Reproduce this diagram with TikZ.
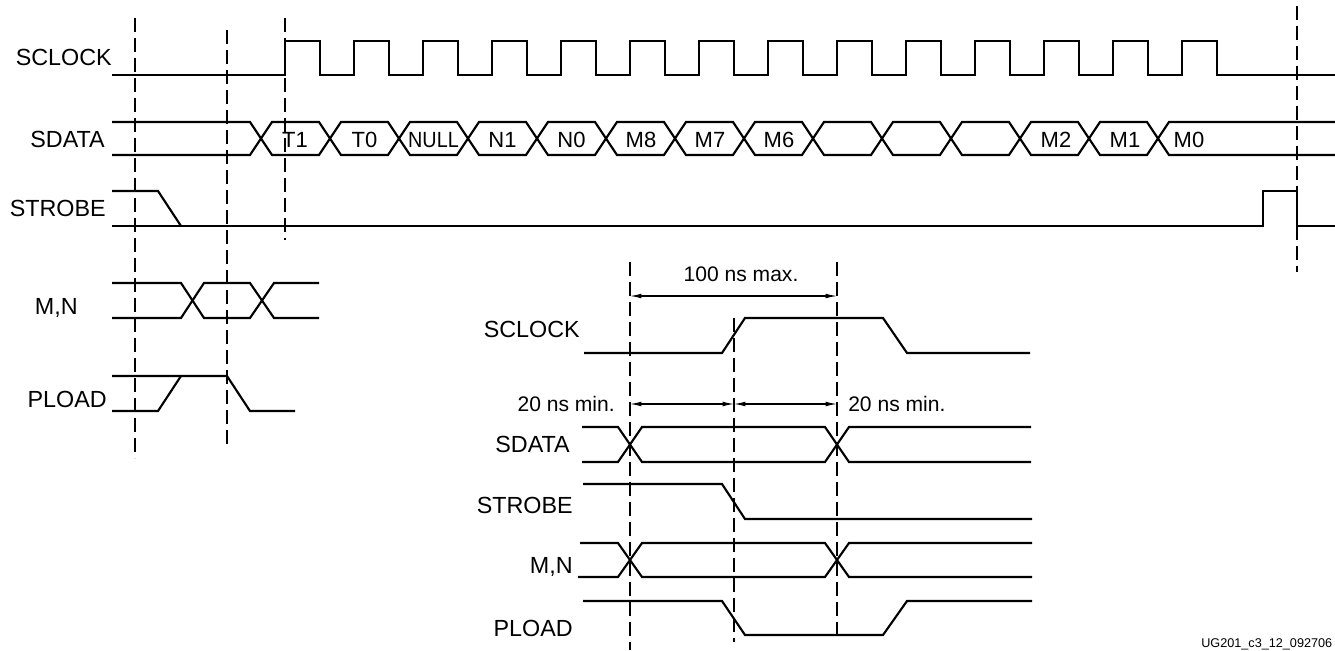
\documentclass[tikz,border=0pt]{standalone}
\usepackage{fontspec}
\setmainfont{Liberation Sans}
\usetikzlibrary{arrows.meta}

\begin{document}
\begin{tikzpicture}[x=0.75pt,y=0.75pt,yscale=-1,xscale=1,
  wave/.style={line width=1.6pt},
  guide/.style={line width=0.8pt,dash pattern=on 10.5pt off 4.5pt},
  span/.style={line width=0.8pt,{Latex[length=8.5pt,width=3.5pt]}-{Latex[length=8.5pt,width=3.5pt]}},
  signame/.style={anchor=base east,inner sep=0pt,font=\fontsize{17.5}{20}\selectfont},
  bitname/.style={anchor=base,inner sep=0pt,font=\fontsize{16.5}{19}\selectfont},
  note/.style={inner sep=0pt,font=\fontsize{15.8}{18}\selectfont}]
\useasboundingbox (0,0) rectangle (1335,650);

%Guides: upper diagram
\draw [guide] (135,18) -- (135,458) ;
\draw [guide] (227,30) -- (227,445) ;
\draw [guide] (285,18) -- (285,240) ;
\draw [guide] (1297,6) -- (1297,272) ;

%Waveform: SCLOCK
\draw [wave] (112,75) -- (285,75) -- (285,41) -- (320,41) -- (320,75) -- (354,75) -- (354,41) -- (389,41) -- (389,75) -- (423,75) -- (423,41) -- (458,41) -- (458,75) -- (492,75) -- (492,41) -- (527,41) -- (527,75) -- (561,75) -- (561,41) -- (596,41) -- (596,75) -- (630,75) -- (630,41) -- (665,41) -- (665,75) -- (699,75) -- (699,41) -- (734,41) -- (734,75) -- (768,75) -- (768,41) -- (803,41) -- (803,75) -- (837,75) -- (837,41) -- (872,41) -- (872,75) -- (906,75) -- (906,41) -- (941,41) -- (941,75) -- (975,75) -- (975,41) -- (1010,41) -- (1010,75) -- (1044,75) -- (1044,41) -- (1079,41) -- (1079,75) -- (1113,75) -- (1113,41) -- (1148,41) -- (1148,75) -- (1182,75) -- (1182,41) -- (1217,41) -- (1217,75) -- (1335,75) ;

%Waveform: SDATA
\draw [wave] (112,122) -- (250,122) -- (272,155) -- (319,155) -- (341,122) -- (388,122) -- (410,155) -- (457,155) -- (479,122) -- (526,122) -- (548,155) -- (595,155) -- (617,122) -- (664,122) -- (686,155) -- (733,155) -- (755,122) -- (802,122) -- (824,155) -- (871,155) -- (893,122) -- (940,122) -- (962,155) -- (1009,155) -- (1031,122) -- (1078,122) -- (1100,155) -- (1147,155) -- (1169,122) -- (1335,122) ;
\draw [wave] (112,155) -- (250,155) -- (272,122) -- (319,122) -- (341,155) -- (388,155) -- (410,122) -- (457,122) -- (479,155) -- (526,155) -- (548,122) -- (595,122) -- (617,155) -- (664,155) -- (686,122) -- (733,122) -- (755,155) -- (802,155) -- (824,122) -- (871,122) -- (893,155) -- (940,155) -- (962,122) -- (1009,122) -- (1031,155) -- (1078,155) -- (1100,122) -- (1147,122) -- (1169,155) -- (1335,155) ;

%Waveform: STROBE
\draw [wave] (112,191) -- (158,191) -- (181,226) ;
\draw [wave] (112,226) -- (1263,226) -- (1263,191) -- (1297,191) -- (1297,226) -- (1335,226) ;

%Waveform: M,N
\draw [wave] (112,283) -- (181,283) -- (204,318) -- (250,318) -- (274,283) -- (319,283) ;
\draw [wave] (112,318) -- (181,318) -- (204,283) -- (250,283) -- (274,318) -- (319,318) ;

%Waveform: PLOAD
\draw [wave] (112,376) -- (227,376) -- (250,411) -- (295,411) ;
\draw [wave] (112,411) -- (158,411) -- (181,376) ;

% Text Node
\draw (112,65) node (sclkA) [signame] {SCLOCK};
% Text Node
\draw (105,147) node (sdatA) [signame] {SDATA};
% Text Node
\draw (106,216) node (strbA) [signame] {STROBE};
% Text Node
\draw (78,314) node (mnA) [signame] {M,N};
% Text Node
\draw (107,407) node (pldA) [signame] {PLOAD};

% Text Node
\draw (295,147) node (bT1) [bitname] {T1};
% Text Node
\draw (364.5,147) node (bT0) [bitname] {T0};
% Text Node
\draw (433.5,147) node (bNULL) [bitname] {\scalebox{0.9}[1]{NULL}};
% Text Node
\draw (502.5,147) node (bN1) [bitname] {N1};
% Text Node
\draw (571.5,147) node (bN0) [bitname] {N0};
% Text Node
\draw (641,147) node (bM8) [bitname] {M8};
% Text Node
\draw (710,147) node (bM7) [bitname] {M7};
% Text Node
\draw (779,147) node (bM6) [bitname] {M6};
% Text Node
\draw (1056,147) node (bM2) [bitname] {M2};
% Text Node
\draw (1125,147) node (bM1) [bitname] {M1};
% Text Node
\draw (1189,147) node (bM0) [bitname] {M0};

%Guides: lower diagram
\draw [guide] (630,262) -- (630,650) ;
\draw [guide] (734,318) -- (734,642) ;
\draw [guide] (837,262) -- (837,637) ;

%Waveform: SCLOCK detail
\draw [wave] (584,353) -- (722,353) -- (745,318) -- (883,318) -- (907,353) -- (1030,353) ;

%Waveform: SDATA detail
\draw [wave] (582,427) -- (618,427) -- (642,462) -- (825,462) -- (849,427) -- (1031,427) ;
\draw [wave] (582,462) -- (618,462) -- (642,427) -- (825,427) -- (849,462) -- (1031,462) ;

%Waveform: STROBE detail
\draw [wave] (583,484) -- (722,484) -- (745,519) -- (1032,519) ;

%Waveform: M,N detail
\draw [wave] (580,543) -- (618,543) -- (642,577) -- (825,577) -- (849,543) -- (1032,543) ;
\draw [wave] (578,577) -- (618,577) -- (642,543) -- (825,543) -- (849,577) -- (1032,577) ;

%Waveform: PLOAD detail
\draw [wave] (583,601) -- (722,601) -- (745,635) -- (883,635) -- (907,601) -- (1032,601) ;

%Timing spans
\coordinate (hiL) at (630,296) ;
\coordinate (hiR) at (837,296) ;
\coordinate (loL) at (630,404) ;
\coordinate (loM) at (734,404) ;
\coordinate (loR) at (837,404) ;
\draw [span] (hiL) -- (hiR) ;
\draw [span] (loL) -- (loM) ;
\draw [span] (loM) -- (loR) ;

% Text Node
\draw (741,281) node (tmax) [note,anchor=base] {100 ns max.};
% Text Node
\draw (615,411.5) node (tsetup) [note,anchor=base east] {20 ns min.};
% Text Node
\draw (848,411.5) node (thold) [note,anchor=base west] {20 ns min.};

% Text Node
\draw (580,337) node (sclkB) [signame] {SCLOCK};
% Text Node
\draw (570,452) node (sdatB) [signame] {SDATA};
% Text Node
\draw (573,513) node (strbB) [signame] {STROBE};
% Text Node
\draw (573,573) node (mnB) [signame] {M,N};
% Text Node
\draw (573,636.5) node (pldB) [signame] {PLOAD};

% Text Node
\draw (1201,647) node (figid) [anchor=base west,inner sep=0pt,font=\fontsize{9.5}{11}\selectfont] {UG201\_c3\_12\_092706};
\end{tikzpicture}
\end{document}
